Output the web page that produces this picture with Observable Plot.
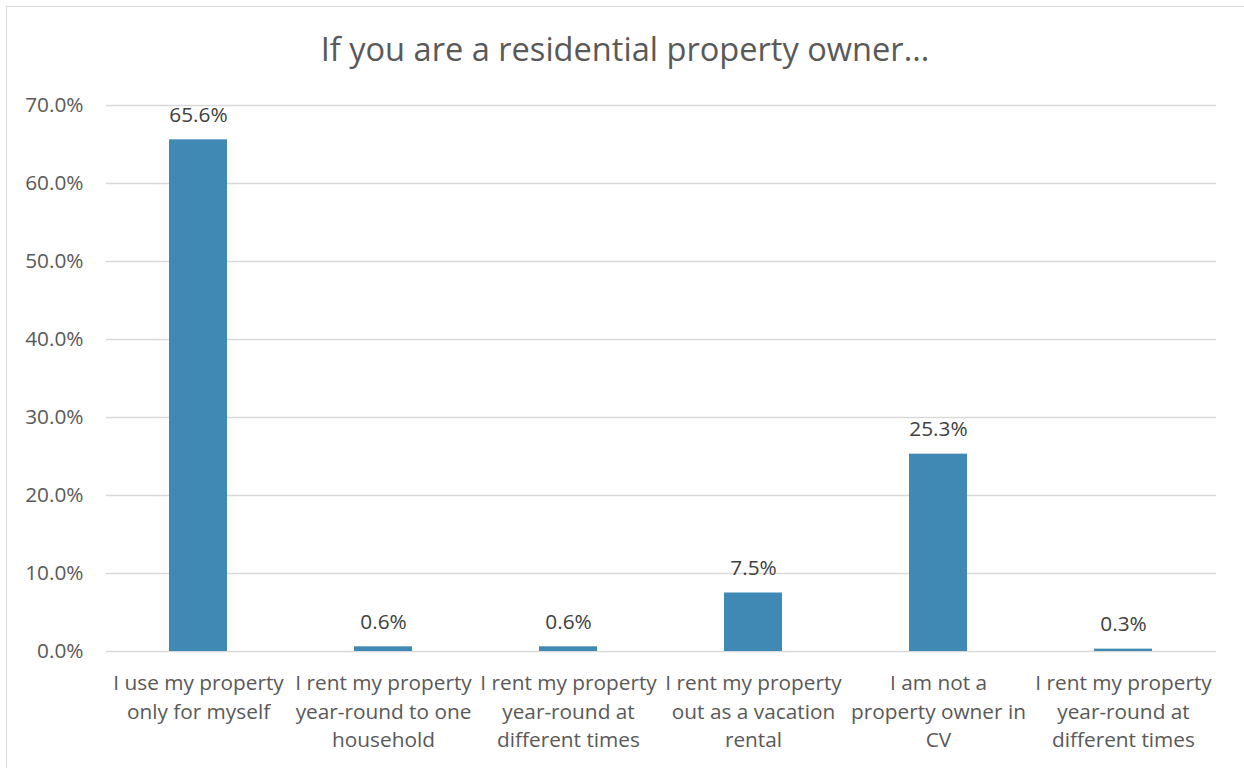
<!DOCTYPE html>
<html>
<head>
<meta charset="utf-8">
<script src="https://cdn.jsdelivr.net/npm/d3@7"></script>
<script src="https://cdn.jsdelivr.net/npm/@observablehq/plot@0.6"></script>
<style>
  body { margin: 0; background: #fff; }
  #wrap { position: relative; width: 1244px; height: 768px; overflow: hidden; font-family: "Open Sans", sans-serif; }
  #frame { position: absolute; left: 6px; top: 6px; width: 1300px; height: 900px; border-left: 1.5px solid #d9d9d9; border-top: 1.5px solid #d9d9d9; }
  #title { position: absolute; left: 6px; width: 1238px; top: 29px; text-align: center; font-size: 32.6px; color: #595959; line-height: 40px; }
  #chart { position: absolute; left: 0; top: 80px; }
</style>
</head>
<body>
<div id="wrap">
  <div id="frame"></div>
  <div id="title">If you are a residential property owner...</div>
  <div id="chart"></div>
</div>
<script>
const categories = [
  "I use my property only for myself",
  "I rent my property year-round to one household",
  "I rent my property year-round at different times",
  "I rent my property out as a vacation rental",
  "I am not a property owner in CV",
  "I rent my property year-round at different times"
];
const tickLabels = [
  "I use my property\nonly for myself",
  "I rent my property\nyear-round to one\nhousehold",
  "I rent my property\nyear-round at\ndifferent times",
  "I rent my property\nout as a vacation\nrental",
  "I am not a\nproperty owner in\nCV",
  "I rent my property\nyear-round at\ndifferent times"
];
const values = [65.6, 0.6, 0.6, 7.5, 25.3, 0.3];
const yTicks = [0, 10, 20, 30, 40, 50, 60, 70];

const data = categories.map((c, i) => ({i, category: c, value: values[i]}));
const fs = 20.8;

const chart = Plot.plot({
  width: 1244,
  height: 688,
  marginTop: 25,
  marginBottom: 117,
  marginLeft: 106,
  marginRight: 28,
  style: {fontFamily: "'Open Sans', sans-serif", fontSize: fs + "px", color: "#595959", background: "transparent"},
  x: {domain: d3.range(categories.length), paddingInner: 0.686, paddingOuter: 0.343, label: null},
  y: {domain: [0, 70], label: null},
  marks: [
    Plot.gridY(yTicks, {stroke: "#d9d9d9", strokeOpacity: 1, strokeWidth: 1.5}),
    Plot.axisY(yTicks, {tickSize: 0, tickPadding: 23, tickFormat: d => d.toFixed(1) + "%", fontSize: fs, fill: "#595959", label: null}),
    Plot.axisX({tickSize: 0, tickPadding: 18, tickFormat: i => tickLabels[i], lineHeight: 1.38, fontSize: fs, fill: "#595959", label: null}),
    Plot.barY(data, {x: "i", y: "value", fill: "#4089b4"}),
    Plot.text(data, {x: "i", y: "value", text: d => d.value.toFixed(1) + "%", lineAnchor: "bottom", dy: -18, fontSize: fs, fill: "#404040"})
  ]
});
document.getElementById("chart").appendChild(chart);
</script>
</body>
</html>
